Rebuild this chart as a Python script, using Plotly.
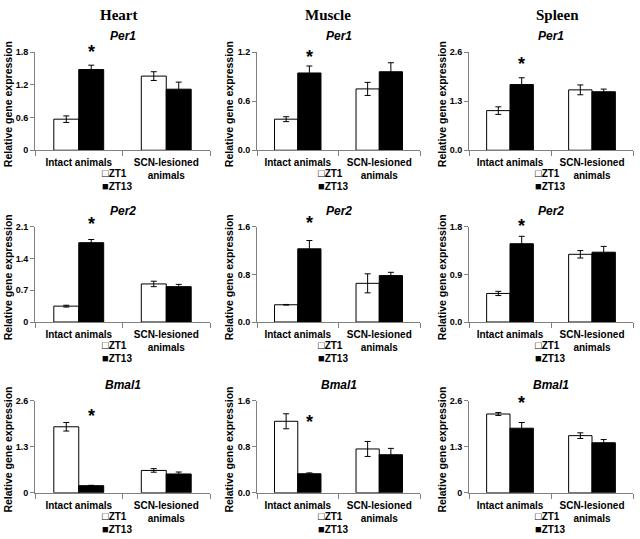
import plotly.graph_objects as go

# ---------------- data ----------------
tissues = ["Heart", "Muscle", "Spleen"]
genes = ["Per1", "Per2", "Bmal1"]
groups = ["Intact animals", "SCN-lesioned<br>animals"]
series_names = ["ZT1", "ZT13"]

# each list: [Heart, Muscle, Spleen], each entry: [Intact, SCN-lesioned]
per1_zt1 = [[0.57, 1.36], [0.38, 0.75], [1.05, 1.60]]
per1_zt1_err = [[0.06, 0.08], [0.03, 0.08], [0.10, 0.13]]
per1_zt13 = [[1.48, 1.12], [0.945, 0.96], [1.74, 1.55]]
per1_zt13_err = [[0.08, 0.13], [0.085, 0.11], [0.18, 0.07]]

per2_zt1 = [[0.35, 0.84], [0.29, 0.65], [0.54, 1.28]]
per2_zt1_err = [[0.02, 0.06], [0.005, 0.16], [0.04, 0.07]]
per2_zt13 = [[1.75, 0.78], [1.23, 0.78], [1.48, 1.32]]
per2_zt13_err = [[0.07, 0.05], [0.14, 0.055], [0.14, 0.11]]

bmal1_zt1 = [[1.86, 0.63], [1.24, 0.76], [2.22, 1.61]]
bmal1_zt1_err = [[0.12, 0.05], [0.13, 0.13], [0.04, 0.08]]
bmal1_zt13 = [[0.20, 0.53], [0.33, 0.66], [1.82, 1.41]]
bmal1_zt13_err = [[0.01, 0.055], [0.015, 0.11], [0.16, 0.09]]

# y-axis tick labels per gene (rows) and tissue (cols)
per1_ticks = [["0", "0.6", "1.2", "1.8"], ["0.0", "0.6", "1.2"], ["0.0", "1.3", "2.6"]]
per2_ticks = [["0", "0.7", "1.4", "2.1"], ["0.0", "0.8", "1.6"], ["0.0", "0.9", "1.8"]]
bmal1_ticks = [["0", "1.3", "2.6"], ["0.0", "0.8", "1.6"], ["0", "1.3", "2.6"]]

# level (data units) of the significance asterisk above the intact group
star_level = [[1.80, 1.14, 2.29], [2.16, 1.67, 1.82], [2.16, 1.23, 2.52]]

zt1 = [per1_zt1, per2_zt1, bmal1_zt1]
zt1_err = [per1_zt1_err, per2_zt1_err, bmal1_zt1_err]
zt13 = [per1_zt13, per2_zt13, bmal1_zt13]
zt13_err = [per1_zt13_err, per2_zt13_err, bmal1_zt13_err]
ticks = [per1_ticks, per2_ticks, bmal1_ticks]

# ---------------- layout geometry (pixels) ----------------
W, H = 640, 539
col_px = [(35, 210), (257, 420), (469, 633)]
row_px = [(48, 148), (226, 323), (403, 497)]
col_title_x = [118, 328, 557]
ytitle_x = [8, 229, 442]
legend_x = [100, 316, 533]
BARGAP = 0.43

SANS = "Liberation Sans, Arial, sans-serif"
SERIF = "Liberation Serif, Times New Roman, serif"
AXIS_GREY = "#808080"


def px_x(p):
    return p / W


def px_y(p):
    return 1 - p / H


fig = go.Figure()
annotations = []

# x position (axis-domain fraction) of the ZT13 bar centre in the first category
star_dx = 0.25 + (1 - BARGAP) * 0.5 / 4

for r in range(3):
    for c in range(3):
        k = r * 3 + c
        s = "" if k == 0 else str(k + 1)
        xa, ya = "x" + s, "y" + s

        fig.add_trace(go.Bar(
            x=groups, y=zt1[r][c], name=series_names[0],
            marker=dict(color="white", line=dict(color="black", width=1)),
            error_y=dict(type="data", array=zt1_err[r][c], color="black",
                         thickness=1, width=3),
            xaxis=xa, yaxis=ya, showlegend=False, hoverinfo="y",
        ))
        fig.add_trace(go.Bar(
            x=groups, y=zt13[r][c], name=series_names[1],
            marker=dict(color="black", line=dict(color="black", width=1)),
            error_y=dict(type="data", array=zt13_err[r][c], color="black",
                         thickness=1, width=3),
            xaxis=xa, yaxis=ya, showlegend=False, hoverinfo="y",
        ))

        tt = ticks[r][c]
        tv = [float(t) for t in tt]
        ymax = tv[-1]
        x0, x1 = col_px[c]
        y0, y1 = row_px[r]

        fig.layout["xaxis" + s] = dict(
            domain=[px_x(x0), px_x(x1)], anchor=ya,
            showline=True, linecolor=AXIS_GREY, linewidth=1,
            ticks="outside", tickson="boundaries", ticklen=5,
            tickcolor=AXIS_GREY, showgrid=False, zeroline=False,
            tickangle=0, ticklabelstandoff=3,
            tickfont=dict(family=SANS, size=10, color="black", weight="bold"),
            fixedrange=True,
        )
        fig.layout["yaxis" + s] = dict(
            domain=[px_y(y1), px_y(y0)], anchor=xa,
            range=[0, ymax], tickvals=tv, ticktext=tt,
            showline=True, linecolor=AXIS_GREY, linewidth=1,
            ticks="outside", ticklen=4, tickcolor=AXIS_GREY,
            showgrid=False, zeroline=False,
            tickfont=dict(family=SANS, size=9, color="black", weight="bold"),
            fixedrange=True,
        )

        # gene title
        annotations.append(dict(
            text="<i>%s</i>" % genes[r], xref="paper", yref="paper",
            x=px_x((x0 + x1) / 2), y=px_y(y0 - 16), xanchor="center", yanchor="middle",
            showarrow=False, font=dict(family=SANS, size=12, color="black", weight="bold"),
        ))
        # y-axis title
        annotations.append(dict(
            text="Relative gene expression", xref="paper", yref="paper",
            x=px_x(ytitle_x[c]), y=px_y((y0 + y1) / 2 + 3), textangle=-90,
            xanchor="center", yanchor="middle", showarrow=False,
            font=dict(family=SANS, size=10.5, color="black", weight="bold"),
        ))
        # asterisk over ZT13 bar of intact animals (level converted to paper units)
        star_py = y1 - star_level[r][c] / ymax * (y1 - y0)
        annotations.append(dict(
            text="*", xref=xa + " domain", yref="paper",
            x=star_dx, y=px_y(star_py),
            yshift=0, xanchor="center", yanchor="middle",
            showarrow=False, font=dict(family=SANS, size=18, color="black", weight="bold"),
        ))
        # legend (two stacked entries in one text block)
        legend_text = "<br>".join(
            '<span style="font-size:11px">%s</span>%s' % (sym, name)
            for sym, name in zip(["\u25a1", "\u25a0"], series_names)
        )
        annotations.append(dict(
            text=legend_text, xref="paper", yref="paper",
            x=px_x(legend_x[c]), y=px_y(y1 + 30), align="left",
            xanchor="left", yanchor="middle", showarrow=False,
            font=dict(family=SANS, size=10, color="black", weight="bold"),
        ))

# column titles
for c in range(3):
    annotations.append(dict(
        text=tissues[c], xref="paper", yref="paper",
        x=px_x(col_title_x[c]), y=px_y(10), xanchor="center", yanchor="middle",
        showarrow=False, font=dict(family=SERIF, size=15, color="black", weight="bold"),
    ))

fig.update_layout(
    width=W, height=H, margin=dict(l=0, r=0, t=0, b=0),
    paper_bgcolor="white", plot_bgcolor="white",
    barmode="group", bargap=BARGAP, bargroupgap=0,
    annotations=annotations, showlegend=False,
)

fig.write_html("out.html", config={"displayModeBar": False},
               post_script="document.body.style.margin='0';")
